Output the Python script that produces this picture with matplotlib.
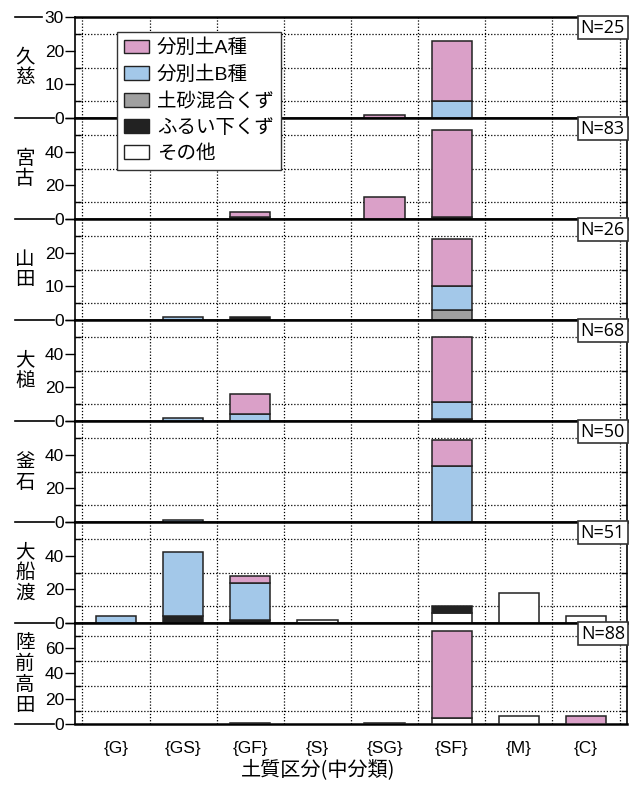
import numpy as np
import matplotlib
matplotlib.use('Agg')
import matplotlib.pyplot as plt
from matplotlib.patches import Patch
from matplotlib.lines import Line2D
from matplotlib.transforms import blended_transform_factory

plt.rcParams['font.family'] = ['Liberation Sans', 'Noto Sans CJK JP']

categories = ['{G}', '{GS}', '{GF}', '{S}', '{SG}', '{SF}', '{M}', '{C}']
regions = ['久慈', '宮古', '山田', '大槌', '釜石', '大船渡', '陸前高田']
n_counts = [25, 83, 26, 68, 50, 51, 88]
y_max = [30, 60, 30, 60, 60, 60, 80]
y_step = [10, 20, 10, 20, 20, 20, 20]

# counts per region (rows) and soil class (columns)
type_a = [
    [0, 0, 0, 0, 1, 18, 0, 0],
    [0, 0, 3, 0, 13, 52, 0, 0],
    [0, 0, 0, 0, 0, 14, 0, 0],
    [0, 0, 12, 0, 0, 39, 0, 0],
    [0, 0, 0, 0, 0, 16, 0, 0],
    [0, 0, 4, 0, 0, 0, 0, 0],
    [0, 0, 0, 0, 0, 69, 0, 6],
]
type_b = [
    [0, 0, 0, 0, 0, 5, 0, 0],
    [0, 0, 0, 0, 0, 0, 0, 0],
    [0, 1, 0, 0, 0, 7, 0, 0],
    [0, 2, 4, 0, 0, 10, 0, 0],
    [0, 1, 0, 0, 0, 33, 0, 0],
    [4, 38, 22, 0, 0, 0, 0, 0],
    [0, 0, 0, 0, 0, 0, 0, 0],
]
mixed = [
    [0, 0, 0, 0, 0, 0, 0, 0],
    [0, 0, 0, 0, 0, 0, 0, 0],
    [0, 0, 0, 0, 0, 3, 0, 0],
    [0, 0, 0, 0, 0, 0, 0, 0],
    [0, 0, 0, 0, 0, 0, 0, 0],
    [0, 0, 0, 0, 0, 0, 0, 0],
    [0, 0, 0, 0, 0, 0, 0, 0],
]
sieved = [
    [0, 0, 0, 0, 0, 0, 0, 0],
    [0, 0, 1, 0, 0, 1, 0, 0],
    [0, 0, 1, 0, 0, 0, 0, 0],
    [0, 0, 0, 0, 0, 1, 0, 0],
    [0, 0, 0, 0, 0, 0, 0, 0],
    [0, 4, 2, 0, 0, 4, 0, 0],
    [0, 0, 1, 0, 1, 0, 0, 0],
]
other = [
    [0, 0, 0, 0, 0, 0, 0, 0],
    [0, 0, 0, 0, 0, 0, 0, 0],
    [0, 0, 0, 0, 0, 0, 0, 0],
    [0, 0, 0, 0, 0, 0, 0, 0],
    [0, 0, 0, 0, 0, 0, 0, 0],
    [0, 0, 0, 2, 0, 6, 18, 4],
    [0, 0, 0, 0, 0, 5, 6, 0],
]

# stacking order, bottom to top
layers = [
    ('その他', '#FFFFFF', other),
    ('ふるい下くず', '#222222', sieved),
    ('土砂混合くず', '#A0A0A0', mixed),
    ('分別土B種', '#A3C8E9', type_b),
    ('分別土A種', '#DAA0C8', type_a),
]

W, H = 633, 785
fig = plt.figure(figsize=(W / 100, H / 100), dpi=100)
gs = fig.add_gridspec(len(regions), 1, left=75 / W, right=627 / W,
                      top=1 - 17 / H, bottom=1 - 724 / H, hspace=0)

x = np.arange(len(categories))
axes = []
for i, region in enumerate(regions):
    ax = fig.add_subplot(gs[i])
    axes.append(ax)
    bottom = np.zeros(len(categories))
    for name, color, data in layers:
        vals = np.array(data[i], dtype=float)
        m = vals > 0
        if m.any():
            ax.bar(x[m], vals[m], 0.6, bottom=bottom[m], color=color,
                   edgecolor='#222222', linewidth=1.1, zorder=3)
        bottom += vals

    ax.set_xlim(-0.61, 7.61)
    ax.set_ylim(0, y_max[i])
    major = np.arange(0, y_max[i] + 1, y_step[i])
    ax.set_yticks(major)
    labels = [str(v) for v in major]
    if i > 0:
        labels[-1] = ''
    ax.set_yticklabels(labels)
    ax.set_yticks(np.arange(0, y_max[i] + 1, y_step[i] / 2), minor=True)
    ax.set_xticks(x)
    ax.set_xticks(np.arange(-0.5, 8, 1), minor=True)

    ax.grid(which='minor', linestyle=(0, (1, 1.5)), color='black', linewidth=0.9)
    ax.set_axisbelow(True)
    ax.tick_params(axis='y', which='major', direction='out', length=7,
                   width=1, labelsize=12.5, pad=1)
    ax.tick_params(axis='y', which='minor', direction='in', length=4,
                   width=1, right=True)
    ax.tick_params(axis='x', which='both', length=0)
    if i < len(regions) - 1:
        ax.tick_params(axis='x', labelbottom=False)
    else:
        ax.set_xticklabels(categories, fontsize=12.5)
        ax.tick_params(axis='x', pad=12)

    for side in ('top', 'bottom'):
        ax.spines[side].set_linewidth(1.8)
    for side in ('left', 'right'):
        ax.spines[side].set_linewidth(1.2)

    # long marks running left from each panel's zero line
    tr = blended_transform_factory(fig.transFigure, ax.transData)
    ax.add_line(Line2D([15 / W, 54 / W], [0, 0], transform=tr,
                       color='black', linewidth=1.2, clip_on=False))
    if i == 0:
        ax.add_line(Line2D([15 / W, 42 / W], [y_max[i], y_max[i]], transform=tr,
                           color='black', linewidth=1.2, clip_on=False))

    ax.text(0.996, 0.985, f'N={n_counts[i]}', transform=ax.transAxes,
            ha='right', va='top', fontsize=13, family=['Open Sans'],
            bbox=dict(boxstyle='square,pad=0.15', fc='white', ec='#333333', lw=1.2),
            zorder=6)

    pos = ax.get_position()
    fig.text(25 / W, (pos.y0 + pos.y1) / 2, '\n'.join(region),
             ha='center', va='center', fontsize=14, linespacing=1.0,
             family=['Noto Sans CJK JP'])

fig.text(318 / W, 1 - 770 / H, '土質区分(中分類)', ha='center', va='center',
         fontsize=14.5, family=['Noto Sans CJK JP'])

handles = [Patch(facecolor=c, edgecolor='#222222', linewidth=1) for _, c, _ in layers[::-1]]
names = [n for n, _, _ in layers[::-1]]
fig.legend(handles, names, loc='upper left', bbox_to_anchor=(117 / W, 1 - 32 / H),
           borderaxespad=0, fancybox=False, framealpha=1, edgecolor='#333333',
           prop={'family': ['Liberation Sans', 'Noto Sans CJK JP'], 'size': 14},
           handlelength=1.3, handleheight=0.7, labelspacing=0.42,
           borderpad=0.35, handletextpad=0.4)

fig.savefig('out.png', dpi=100)
